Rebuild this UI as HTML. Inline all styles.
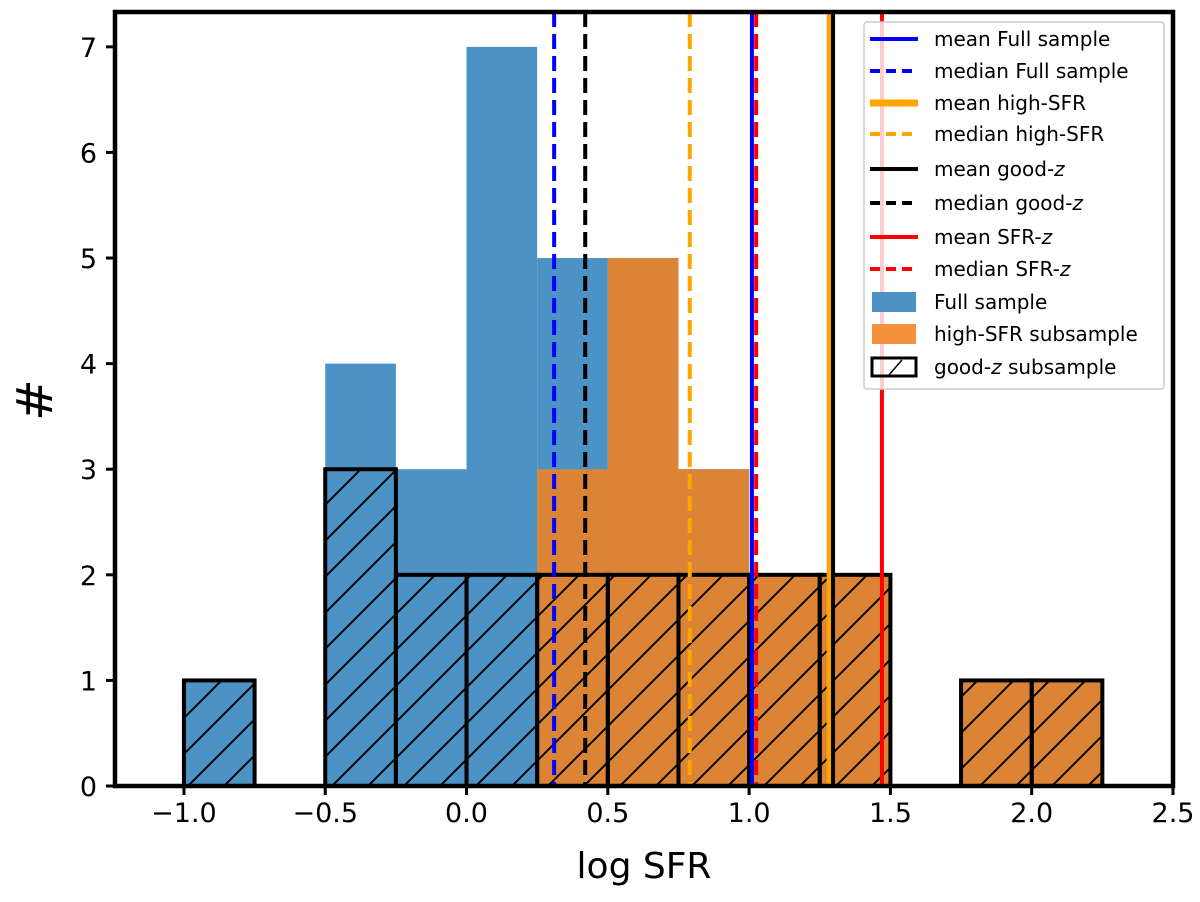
<!DOCTYPE html>
<html><head><meta charset="utf-8"><style>
body{margin:0;background:#fff;font-family:"DejaVu Sans","Liberation Sans",sans-serif}
</style></head><body>
<svg id="chart" width="1200" height="898" xmlns="http://www.w3.org/2000/svg" font-family="DejaVu Sans, Liberation Sans, sans-serif">
<defs><pattern id="hatch" patternUnits="userSpaceOnUse" width="36" height="36" x="0" y="2">
<path d="M-9,9 L9,-9 M0,36 L36,0 M27,45 L45,27" stroke="#000" stroke-width="1.9"/></pattern></defs>
<g id="bars"></g><g id="vlines"></g><g id="axes"></g><g id="legend"></g>
</svg>
<script>
const binEdges=[-1.0,-0.75,-0.5,-0.25,0.0,0.25,0.5,0.75,1.0,1.25,1.5,1.75,2.0];
const fullCounts=[1,0,4,3,7,5,5,3,2,2,0,1,1];
const highCounts=[0,0,0,0,0,3,5,3,2,2,0,1,1];
const goodCounts=[1,0,3,2,2,2,2,2,2,2,0,1,1];
const lineNames=["mean Full sample","median Full sample","mean high-SFR","median high-SFR","mean good-z","median good-z","mean SFR-z","median SFR-z"];
const lineValues=[1.01,0.31,1.285,0.79,1.297,0.42,1.47,1.025];
const lineColors=["#0000ff","#0000ff","#ffa500","#ffa500","#000","#000","#ff0000","#ff0000"];
const lineDashed=[false,true,false,true,false,true,false,true];
const xTicks=[-1.0,-0.5,0.0,0.5,1.0,1.5,2.0,2.5];
const yTicks=[0,1,2,3,4,5,6,7];
const NS="http://www.w3.org/2000/svg";
const L=115,R=1173,T=12,B=786,xmin=-1.244,xmax=2.5,ymin=0,ymax=7.33;
const xs=v=>L+(v-xmin)/(xmax-xmin)*(R-L);
const ys=v=>B-(v-ymin)/(ymax-ymin)*(B-T);
function mk(tag,attrs,parent){const e=document.createElementNS(NS,tag);for(const k in attrs)e.setAttribute(k,attrs[k]);parent.appendChild(e);return e;}
const bars=document.getElementById('bars');
const W=0.25;
function drawHist(counts,fill,name){counts.forEach((c,i)=>{if(!c)return;const x0=xs(binEdges[i]),x1=xs(binEdges[i]+W);
const r=mk('rect',{x:x0,y:ys(c),width:x1-x0,height:B-ys(c),fill:fill},bars);

});}
drawHist(fullCounts,'#4c92c4','full-sample');
drawHist(highCounts,'#db8436','high-sfr');
goodCounts.forEach((c,i)=>{if(!c)return;const x0=xs(binEdges[i]),x1=xs(binEdges[i]+W);
const r=mk('rect',{x:x0,y:ys(c),width:x1-x0,height:B-ys(c),fill:'url(#hatch)',stroke:'#000','stroke-width':4},bars);

});
const vl=document.getElementById('vlines');
lineValues.forEach((v,i)=>{const x=xs(v);
const l=mk('line',{x1:x,x2:x,y1:T,y2:B,stroke:lineColors[i],'stroke-width':i==2?6:4,'stroke-dasharray':lineDashed[i]?'15,7':'none'},vl);

});
const ax=document.getElementById('axes');
const frame=mk('rect',{x:L,y:T,width:R-L,height:B-T,fill:'none',stroke:'#000','stroke-width':4.5},ax);


xTicks.forEach(t=>{const x=xs(t);mk('line',{x1:x,x2:x,y1:B,y2:B+9,stroke:'#000','stroke-width':3},ax);
const tx=mk('text',{x:x,y:B+36,'font-size':27,'text-anchor':'middle'},ax);tx.textContent=(t<0?'\u2212':'')+Math.abs(t).toFixed(1);

});
yTicks.forEach(t=>{const y=ys(t);mk('line',{x1:L-9,x2:L,y1:y,y2:y,stroke:'#000','stroke-width':3},ax);
const tx=mk('text',{x:L-18,y:y+10,'font-size':27,'text-anchor':'end'},ax);tx.textContent=t;

});
const xt=mk('text',{x:644,y:878,'font-size':36,'text-anchor':'middle'},ax);xt.textContent='log SFR';


const yt=mk('text',{x:0,y:0,'font-size':50,'text-anchor':'middle',transform:'translate(52,400) rotate(-90)'},ax);yt.textContent='#';


const lg=document.getElementById('legend');
const box=mk('rect',{x:864,y:22,width:300,height:367,fill:'#fff','fill-opacity':0.8,stroke:'#ccc','stroke-width':1.5,rx:3},lg);


const ly=[39,71,103,134,169,203,237,269,302,334,367];
lineNames.forEach((n,i)=>{const y=ly[i];
mk('line',{x1:870,x2:918,y1:y,y2:y,stroke:lineColors[i],'stroke-width':i==2?7:4,'stroke-dasharray':lineDashed[i]?'10,6':'none'},lg);
const t=mk('text',{x:934,y:y+7,'font-size':20},lg);
t.innerHTML=n.replace(/-z$/,'-<tspan font-style="italic">z</tspan>');

});
mk('rect',{x:872,y:292,width:44,height:20,fill:'#4c92c4'},lg);
mk('rect',{x:872,y:324,width:44,height:20,fill:'#f5923e'},lg);
mk('rect',{x:872,y:358,width:44,height:18,fill:'none',stroke:'#000','stroke-width':3},lg);
mk('line',{x1:888,x2:902,y1:376,y2:360,stroke:'#000','stroke-width':1.5},lg);
[['Full sample',302],['high-SFR subsample',334],['good-z subsample',367]].forEach(([n,y])=>{
const t=mk('text',{x:934,y:y+7,'font-size':20},lg);
t.innerHTML=n.replace('good-z','good-<tspan font-style="italic">z</tspan>');

});
</script>
</body></html>
